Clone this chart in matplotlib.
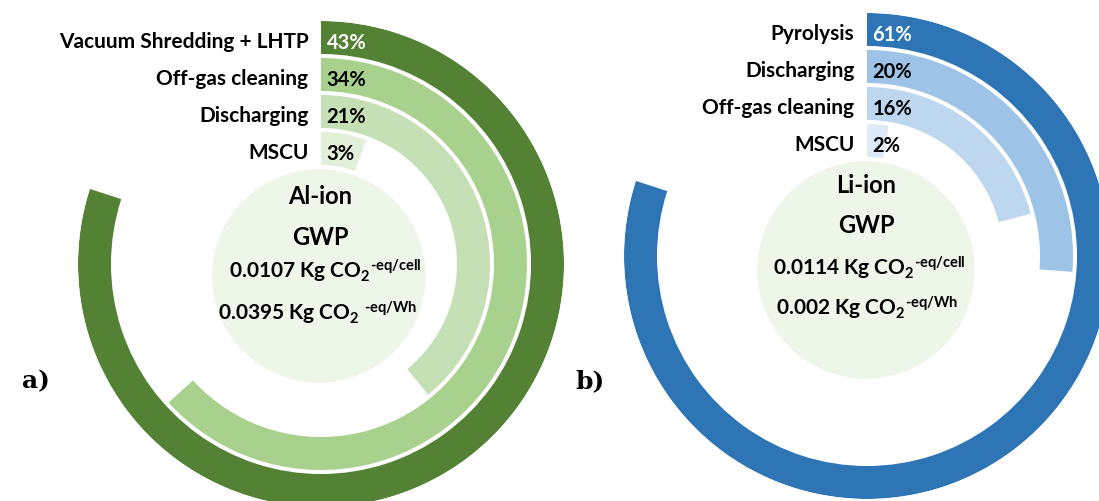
import matplotlib
matplotlib.use('Agg')
import matplotlib.pyplot as plt
from matplotlib.patches import Circle
import numpy as np

# data
al_labels = ["Vacuum Shredding + LHTP", "Off-gas cleaning", "Discharging", "MSCU"]
al_values = [43, 34, 21, 3]
al_colors = ["#548235", "#A9D18E", "#C5E0B4", "#E2F0D9"]

li_labels = ["Pyrolysis", "Discharging", "Off-gas cleaning", "MSCU"]
li_values = [61, 20, 16, 2]
li_colors = ["#2E75B6", "#9DC3E6", "#BDD7EE", "#DEEBF7"]

al_text = ["Al-ion", "GWP",
           r"0.0107 Kg CO$_\mathregular{2}$$\mathregular{{}^{\text{-eq/cell}}}$",
           r"0.0395 Kg CO$_\mathregular{2}$ $\mathregular{{}^{\text{-eq/Wh}}}$"]
li_text = ["Li-ion", "GWP",
           r"0.0114 Kg CO$_\mathregular{2}$$\mathregular{{}^{\text{-eq/cell}}}$",
           r"0.002 Kg CO$_\mathregular{2}$$\mathregular{{}^{\text{-eq/Wh}}}$"]

W, H = 1099, 502
plt.rcParams['font.family'] = ['Lato', 'DejaVu Sans']
plt.rcParams['mathtext.fontset'] = 'custom'
plt.rcParams['mathtext.rm'] = 'Lato:bold'
plt.rcParams['mathtext.bf'] = 'Lato:bold'

fig = plt.figure(figsize=(W / 100, H / 100), dpi=100)

# overlay axes in pixel coordinates for the centre discs and texts
bg = fig.add_axes([0, 0, 1, 1])
bg.set_xlim(0, W)
bg.set_ylim(H, 0)
bg.axis('off')


def radial(cx, cy, R, labels, values, colors):
    ax = fig.add_axes([(cx - R) / W, (H - cy - R) / H, 2 * R / W, 2 * R / H],
                      projection='polar')
    ax.set_theta_zero_location('N')
    ax.set_theta_direction(-1)
    ax.set_ylim(0, R)
    ax.axis('off')
    full = max(values) / 0.8  # largest bar fills 80% of the circle
    pitch, thick = 37, 33
    for i, (lab, v, c) in enumerate(zip(labels, values, colors)):
        r_out = R - i * pitch
        ax.bar(0, thick, width=2 * np.pi * v / full, bottom=r_out - thick,
               align='edge', color=c, edgecolor='none')
        rm = r_out - thick / 2
        ax.annotate(f"{v}%", xy=(0, rm), xytext=(4, -3), textcoords='offset points',
                    ha='left', va='center', fontsize=14.5, fontweight='bold',
                    color='white' if i == 0 else 'black')
        ax.annotate(lab, xy=(0, rm), xytext=(-9, -2.5), textcoords='offset points',
                    ha='right', va='center', fontsize=15, fontweight='bold',
                    color='black')
    return ax


radial(321, 265, 243, al_labels, al_values, al_colors)
radial(867, 257, 243, li_labels, li_values, li_colors)

bg.add_patch(Circle((319, 277), 106, color='#EEF5E9', zorder=0))
bg.add_patch(Circle((866, 271), 108, color='#EEF5E9', zorder=0))

for txt, x, y, fs in zip(al_text, [320, 320, 325, 318], [197, 238, 271, 313],
                         [17, 17, 15, 15]):
    bg.text(x, y, txt, ha='center', va='center', fontsize=fs, fontweight='bold')
for txt, x, y, fs in zip(li_text, [866, 866, 869, 867], [186, 226, 268, 308],
                         [17, 17, 15, 15]):
    bg.text(x, y, txt, ha='center', va='center', fontsize=fs, fontweight='bold')

bg.text(22, 381, "a)", ha='left', va='center', fontsize=18, fontweight='bold',
        family='DejaVu Serif')
bg.text(575, 381, "b)", ha='left', va='center', fontsize=18, fontweight='bold',
        family='DejaVu Serif')

fig.savefig("out.png", dpi=100)
